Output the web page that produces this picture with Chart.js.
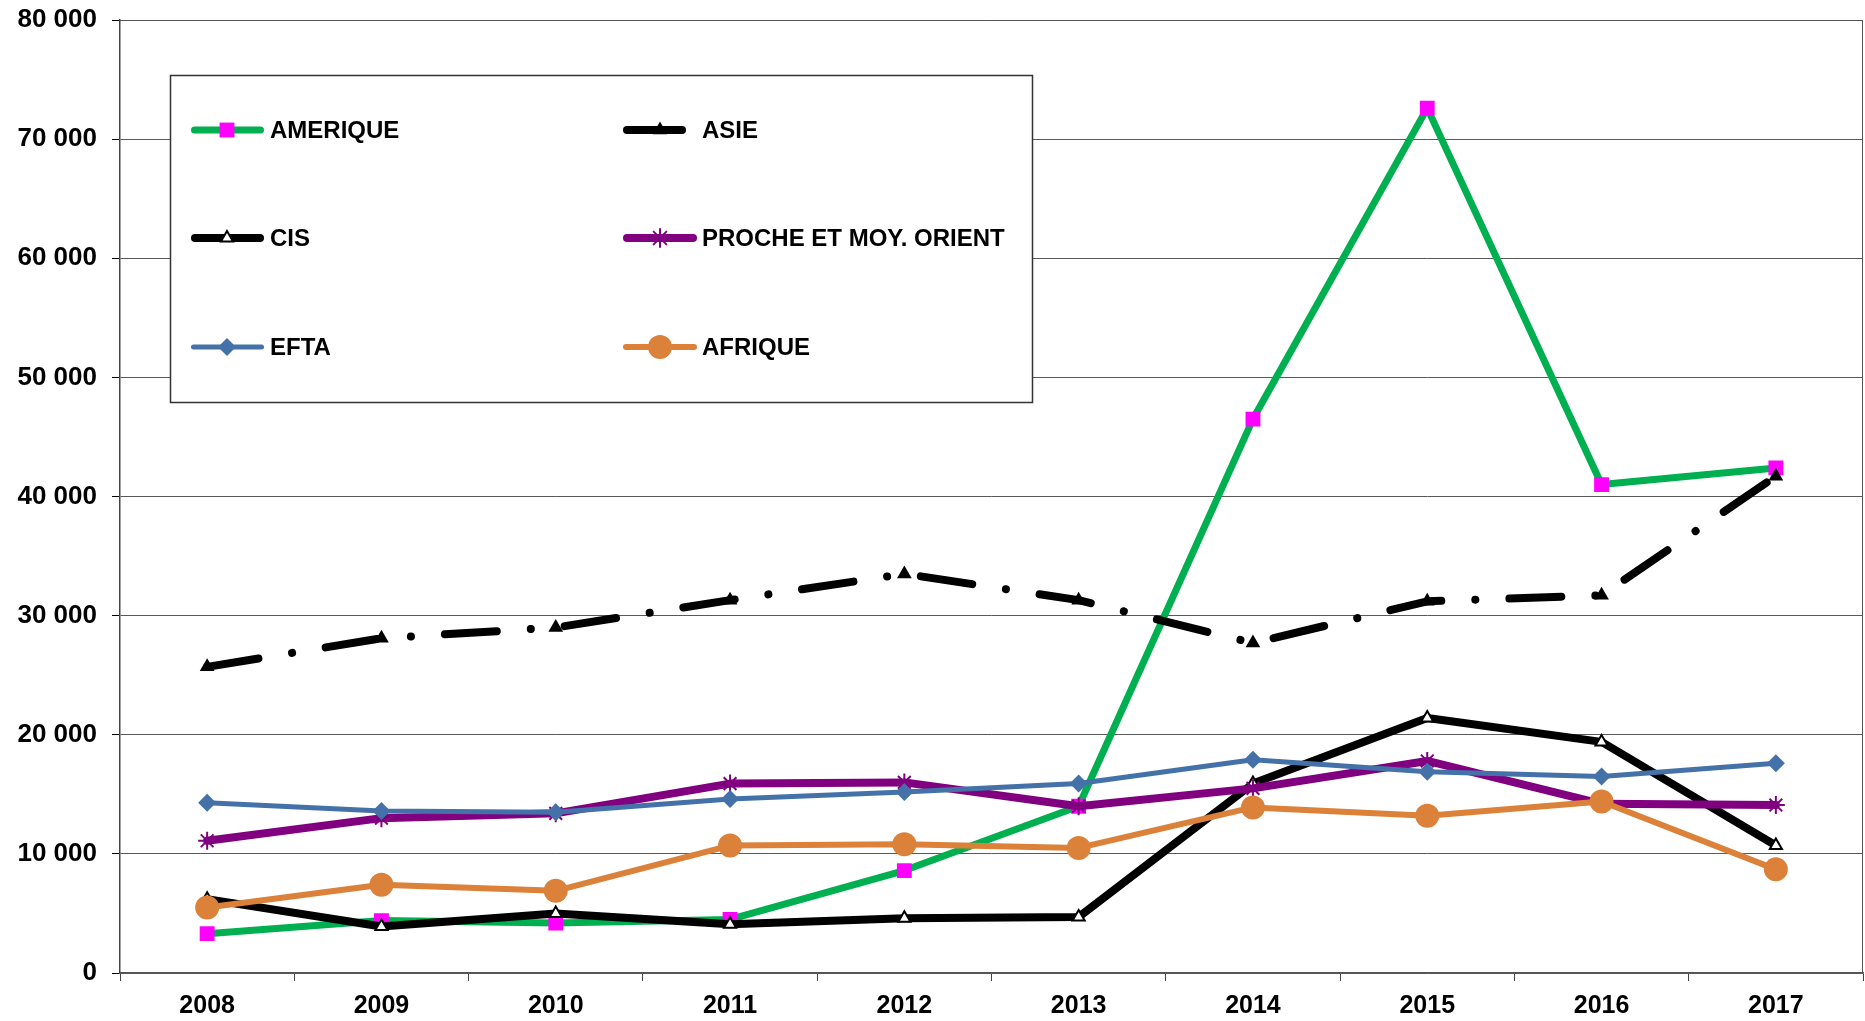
<!DOCTYPE html>
<html lang="fr">
<head>
<meta charset="UTF-8">
<title>Evolution par zone</title>
<script src="https://cdn.jsdelivr.net/npm/chart.js"></script>
<style>
  body { margin: 0; background: #fff; }
  canvas { display: block; }
</style>
</head>
<body>
<canvas id="chart" width="1865" height="1021"></canvas>
<script>
// data
const years = ['2008', '2009', '2010', '2011', '2012', '2013', '2014', '2015', '2016', '2017'];
const amerique = [3300, 4400, 4200, 4500, 8600, 14000, 46500, 72600, 41000, 42400];
const asie     = [25700, 28100, 29000, 31300, 33500, 31300, 27700, 31200, 31700, 41700];
const cis      = [6200, 3900, 5000, 4100, 4600, 4700, 15900, 21400, 19400, 10700];
const proche   = [11100, 13000, 13400, 15900, 16000, 14000, 15500, 17800, 14200, 14100];
const efta     = [14300, 13600, 13500, 14600, 15200, 15900, 17900, 16900, 16500, 17600];
const afrique  = [5500, 7400, 6900, 10700, 10800, 10500, 13900, 13200, 14400, 8700];
const yTicks   = [0, 10000, 20000, 30000, 40000, 50000, 60000, 70000, 80000];

const FONT = 'Liberation Sans, Arial, sans-serif';
const asieDash = [52, 34, 0.1, 34];

const series = [
  { label: 'AMERIQUE', data: amerique, color: '#00B050', width: 7, style: 'rect', radius: 10.5, fill: '#FF00FF', stroke: '#FF00FF', bw: 0 },
  { label: 'ASIE', data: asie, color: '#000000', width: 8, style: 'triangle', radius: 8.5, fill: '#000000', stroke: '#000000', bw: 0, dash: asieDash },
  { label: 'CIS', data: cis, color: '#000000', width: 8, style: 'triangle', radius: 7, fill: '#ffffff', stroke: '#000000', bw: 2 },
  { label: 'PROCHE ET MOY. ORIENT', data: proche, color: '#800080', width: 8, style: 'star', radius: 9, fill: '#800080', stroke: '#800080', bw: 2 },
  { label: 'EFTA', data: efta, color: '#4472A8', width: 5, style: 'rectRot', radius: 9, fill: '#4472A8', stroke: '#4472A8', bw: 0 },
  { label: 'AFRIQUE', data: afrique, color: '#DB813A', width: 6, style: 'circle', radius: 12, fill: '#DB813A', stroke: '#DB813A', bw: 0 }
];

function fmt(v) {
  return String(v).replace(/\B(?=(\d{3})+(?!\d))/g, ' ');
}

// keep the plot area where the reference has it
function noPad(s) {
  s.paddingTop = 0;
  s.paddingBottom = 0;
  s.paddingLeft = 0;
  s.paddingRight = 0;
}

// box around the plot area
const frame = {
  id: 'frame',
  afterDraw(chart) {
    const { ctx, chartArea: a } = chart;
    ctx.save();
    ctx.strokeStyle = '#555';
    ctx.lineWidth = 1;
    ctx.beginPath();
    ctx.moveTo(a.left, a.top + 0.5);
    ctx.lineTo(a.right - 0.5, a.top + 0.5);
    ctx.lineTo(a.right - 0.5, a.bottom);
    ctx.stroke();
    ctx.restore();
  }
};

// legend box inside the plot, 2 columns x 3 rows
const boxLegend = {
  id: 'boxLegend',
  afterDraw(chart) {
    const ctx = chart.ctx;
    ctx.save();
    ctx.fillStyle = '#fff';
    ctx.strokeStyle = '#333';
    ctx.lineWidth = 1.5;
    ctx.fillRect(170, 75, 862, 327);
    ctx.strokeRect(170.5, 75.5, 862, 327);

    const cols = [{ x0: 191, x1: 264, mx: 227, tx: 270 }, { x0: 623, x1: 697, mx: 660, tx: 702 }];
    const rows = [130, 238, 347];
    series.forEach((s, i) => {
      const c = cols[i % 2];
      const y = rows[Math.floor(i / 2)];
      const x1 = s.dash ? 686 : c.x1;
      ctx.setLineDash([]);
      ctx.lineCap = 'round';
      ctx.strokeStyle = s.color;
      ctx.lineWidth = s.width;
      ctx.beginPath();
      ctx.moveTo(c.x0 + s.width / 2, y);
      ctx.lineTo(x1 - s.width / 2, y);
      ctx.stroke();

      ctx.fillStyle = s.fill;
      ctx.strokeStyle = s.stroke;
      ctx.lineWidth = s.bw;
      Chart.helpers.drawPoint(ctx, { pointStyle: s.style, radius: s.radius, rotation: 0, borderWidth: s.bw }, c.mx, y);

      ctx.fillStyle = '#000';
      ctx.font = 'bold 24px ' + FONT;
      ctx.textBaseline = 'middle';
      ctx.textAlign = 'left';
      ctx.fillText(s.label, c.tx, y + 1);
    });
    ctx.restore();
  }
};

new Chart(document.getElementById('chart'), {
  type: 'line',
  data: {
    labels: years,
    datasets: series.map((s, i) => ({
      label: s.label,
      data: s.data,
      order: series.length - 1 - i,
      borderColor: s.color,
      borderWidth: s.width,
      borderDash: s.dash || [],
      borderCapStyle: 'round',
      borderJoinStyle: 'round',
      tension: 0,
      pointStyle: s.style,
      pointRadius: s.radius,
      pointHoverRadius: s.radius,
      pointBackgroundColor: s.fill,
      pointBorderColor: s.stroke,
      pointBorderWidth: s.bw
    }))
  },
  options: {
    responsive: false,
    animation: false,
    layout: { autoPadding: false, padding: { top: 20, right: 2, left: 0, bottom: 0 } },
    plugins: {
      legend: { display: false },
      tooltip: { enabled: false }
    },
    scales: {
      x: {
        offset: true,
        grid: { offset: true, drawOnChartArea: false, drawTicks: true, tickLength: 8, tickColor: '#444', lineWidth: 1 },
        border: { color: '#555', width: 1.5 },
        ticks: { color: '#000', font: { family: FONT, size: 25, weight: 'bold' }, padding: 10, maxRotation: 0 },
        afterFit(s) { s.height = 48; noPad(s); }
      },
      y: {
        min: 0,
        max: 80000,
        afterBuildTicks(s) { s.ticks = yTicks.map(v => ({ value: v })); },
        grid: { color: '#595959', lineWidth: 1, drawTicks: true, tickLength: 8, tickColor: '#000' },
        border: { color: '#444', width: 1.5 },
        ticks: { color: '#000', font: { family: FONT, size: 26, weight: 'bold' }, padding: 15, callback: v => fmt(v) },
        afterFit(s) { s.width = 120; noPad(s); }
      }
    }
  },
  plugins: [frame, boxLegend]
});
</script>
</body>
</html>
